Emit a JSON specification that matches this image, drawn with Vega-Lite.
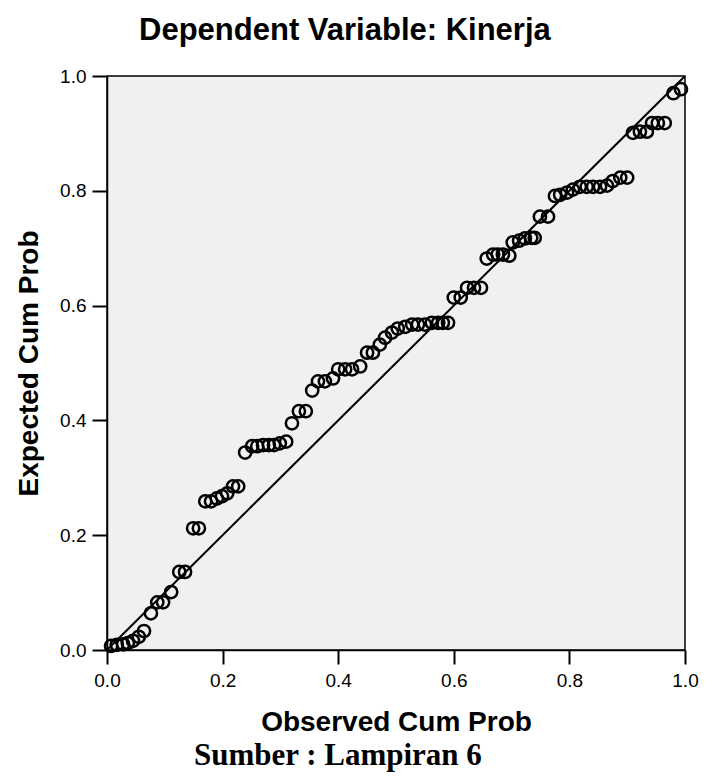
{
  "$schema": "https://vega.github.io/schema/vega-lite/v6.json",
  "background": "white",
  "padding": {"left": 14, "top": 14, "right": 8, "bottom": 4},
  "title": {"text": "Sumber : Lampiran 6", "orient": "bottom", "anchor": "middle", "frame": "bounds", "font": "Liberation Serif", "fontSize": 31, "fontWeight": "bold", "color": "black", "offset": 4, "dx": -19},
  "datasets": {
    "pts": [
      {"obs": 0.007, "exp": 0.007}, {"obs": 0.017, "exp": 0.009}, {"obs": 0.028, "exp": 0.010}, {"obs": 0.036, "exp": 0.012},
      {"obs": 0.045, "exp": 0.016}, {"obs": 0.055, "exp": 0.023}, {"obs": 0.064, "exp": 0.033}, {"obs": 0.076, "exp": 0.064},
      {"obs": 0.087, "exp": 0.083}, {"obs": 0.097, "exp": 0.083}, {"obs": 0.111, "exp": 0.101}, {"obs": 0.125, "exp": 0.136},
      {"obs": 0.135, "exp": 0.136}, {"obs": 0.149, "exp": 0.212}, {"obs": 0.159, "exp": 0.212}, {"obs": 0.170, "exp": 0.259},
      {"obs": 0.180, "exp": 0.259}, {"obs": 0.190, "exp": 0.264}, {"obs": 0.199, "exp": 0.268}, {"obs": 0.208, "exp": 0.273},
      {"obs": 0.218, "exp": 0.285}, {"obs": 0.227, "exp": 0.285}, {"obs": 0.239, "exp": 0.344}, {"obs": 0.251, "exp": 0.355},
      {"obs": 0.260, "exp": 0.355}, {"obs": 0.270, "exp": 0.357}, {"obs": 0.280, "exp": 0.357}, {"obs": 0.289, "exp": 0.357},
      {"obs": 0.299, "exp": 0.360}, {"obs": 0.310, "exp": 0.363}, {"obs": 0.320, "exp": 0.395}, {"obs": 0.332, "exp": 0.416},
      {"obs": 0.344, "exp": 0.416}, {"obs": 0.355, "exp": 0.452}, {"obs": 0.365, "exp": 0.468}, {"obs": 0.377, "exp": 0.468},
      {"obs": 0.391, "exp": 0.473}, {"obs": 0.400, "exp": 0.489}, {"obs": 0.412, "exp": 0.489}, {"obs": 0.424, "exp": 0.489},
      {"obs": 0.438, "exp": 0.494}, {"obs": 0.450, "exp": 0.518}, {"obs": 0.460, "exp": 0.518}, {"obs": 0.472, "exp": 0.532},
      {"obs": 0.481, "exp": 0.544}, {"obs": 0.493, "exp": 0.553}, {"obs": 0.503, "exp": 0.560}, {"obs": 0.516, "exp": 0.563},
      {"obs": 0.528, "exp": 0.567}, {"obs": 0.538, "exp": 0.567}, {"obs": 0.550, "exp": 0.567}, {"obs": 0.562, "exp": 0.570},
      {"obs": 0.573, "exp": 0.570}, {"obs": 0.581, "exp": 0.570}, {"obs": 0.590, "exp": 0.570}, {"obs": 0.600, "exp": 0.614},
      {"obs": 0.612, "exp": 0.614}, {"obs": 0.623, "exp": 0.631}, {"obs": 0.635, "exp": 0.631}, {"obs": 0.647, "exp": 0.631},
      {"obs": 0.657, "exp": 0.682}, {"obs": 0.668, "exp": 0.689}, {"obs": 0.676, "exp": 0.689}, {"obs": 0.685, "exp": 0.689},
      {"obs": 0.696, "exp": 0.687}, {"obs": 0.702, "exp": 0.710}, {"obs": 0.713, "exp": 0.713}, {"obs": 0.723, "exp": 0.717},
      {"obs": 0.734, "exp": 0.718}, {"obs": 0.740, "exp": 0.718}, {"obs": 0.749, "exp": 0.755}, {"obs": 0.763, "exp": 0.755},
      {"obs": 0.775, "exp": 0.791}, {"obs": 0.784, "exp": 0.793}, {"obs": 0.796, "exp": 0.797}, {"obs": 0.806, "exp": 0.802},
      {"obs": 0.818, "exp": 0.807}, {"obs": 0.830, "exp": 0.807}, {"obs": 0.841, "exp": 0.807}, {"obs": 0.853, "exp": 0.807},
      {"obs": 0.865, "exp": 0.809}, {"obs": 0.875, "exp": 0.817}, {"obs": 0.888, "exp": 0.823}, {"obs": 0.900, "exp": 0.823},
      {"obs": 0.910, "exp": 0.901}, {"obs": 0.922, "exp": 0.903}, {"obs": 0.934, "exp": 0.903}, {"obs": 0.943, "exp": 0.918},
      {"obs": 0.953, "exp": 0.918}, {"obs": 0.965, "exp": 0.918}, {"obs": 0.980, "exp": 0.970}, {"obs": 0.993, "exp": 0.977}
    ],
    "diag": [{"obs": 0, "exp": 0}, {"obs": 1, "exp": 1}]
  },
  "vconcat": [
    {
      "width": 578,
      "height": 574,
      "title": {"text": "Dependent Variable: Kinerja", "anchor": "middle", "frame": "bounds", "font": "Liberation Sans", "fontSize": 31, "fontWeight": "bold", "color": "black", "offset": 20, "dx": -12},
      "layer": [
        {
          "data": {"name": "diag"},
          "mark": {"type": "line", "color": "black", "strokeWidth": 2, "clip": true},
          "encoding": {
            "x": {"field": "obs", "type": "quantitative"},
            "y": {"field": "exp", "type": "quantitative"}
          }
        },
        {
          "data": {"name": "pts"},
          "mark": {"type": "point", "shape": "circle", "filled": false, "stroke": "black", "strokeWidth": 2.5, "size": 150, "opacity": 1},
          "encoding": {
            "x": {"field": "obs", "type": "quantitative"},
            "y": {"field": "exp", "type": "quantitative"}
          }
        }
      ],
      "encoding": {
        "x": {"field": "obs", "type": "quantitative", "scale": {"domain": [0, 1], "nice": false, "zero": false},
              "axis": {"title": "Observed Cum Prob", "values": [0, 0.2, 0.4, 0.6, 0.8, 1.0], "format": ".1f"}},
        "y": {"field": "exp", "type": "quantitative", "scale": {"domain": [0, 1], "nice": false, "zero": false},
              "axis": {"title": "Expected Cum Prob", "values": [0, 0.2, 0.4, 0.6, 0.8, 1.0], "format": ".1f"}}
      }
    }
  ],
  "config": {
    "view": {"fill": "#f0f0f0", "stroke": "black", "strokeWidth": 1.5},
    "axis": {
      "grid": false,
      "domain": true,
      "domainColor": "black",
      "domainWidth": 1.5,
      "tickColor": "black",
      "tickWidth": 2,
      "labelFont": "Liberation Sans",
      "labelFontSize": 19,
      "labelColor": "black",
      "titleFont": "Liberation Sans",
      "titleFontSize": 28,
      "titleFontWeight": "bold",
      "titleColor": "black"
    },
    "axisX": {"tickSize": 14, "labelPadding": 7, "titlePadding": 18, "labelFlush": false},
    "axisY": {"tickSize": 15, "labelPadding": 6, "titlePadding": 16}
  }
}
